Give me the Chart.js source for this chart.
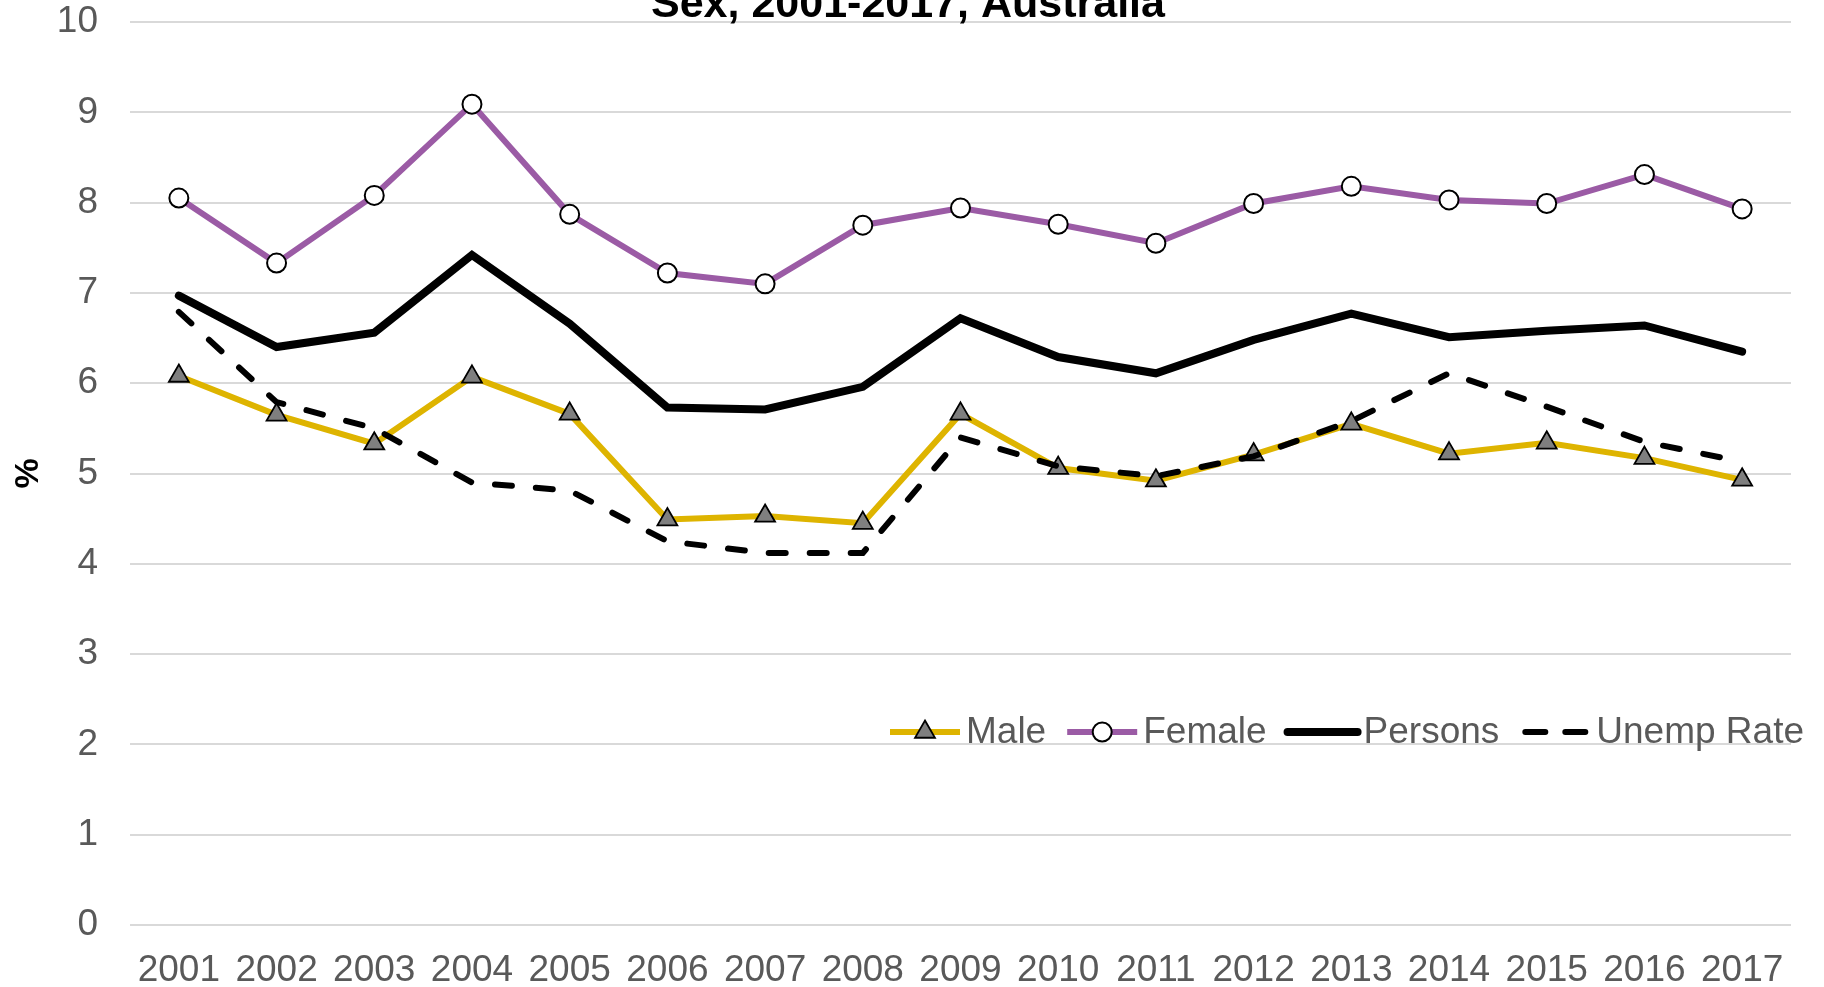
<!DOCTYPE html>
<html>
<head>
<meta charset="utf-8">
<script src="https://cdn.jsdelivr.net/npm/chart.js@4.4.0/dist/chart.umd.min.js"></script>
<style>
  html, body { margin: 0; padding: 0; background: #fff; }
</style>
</head>
<body>
<canvas id="chart" width="1824" height="987" style="width:1824px;height:987px;display:block"></canvas>
<script>
const years = ['2001', '2002', '2003', '2004', '2005', '2006', '2007', '2008', '2009',
               '2010', '2011', '2012', '2013', '2014', '2015', '2016', '2017'];
const male    = [6.08, 5.65, 5.33, 6.07, 5.66, 4.49, 4.53, 4.45, 5.66, 5.06, 4.92, 5.21, 5.55, 5.22, 5.34, 5.17, 4.93];
const female  = [8.05, 7.33, 8.08, 9.09, 7.87, 7.22, 7.10, 7.75, 7.94, 7.76, 7.55, 7.99, 8.18, 8.03, 7.99, 8.31, 7.93];
const persons = [6.97, 6.40, 6.56, 7.42, 6.66, 5.73, 5.71, 5.96, 6.72, 6.29, 6.11, 6.48, 6.77, 6.51, 6.58, 6.64, 6.35];
const unemp   = [6.79, 5.79, 5.50, 4.90, 4.81, 4.25, 4.12, 4.12, 5.40, 5.08, 4.97, 5.19, 5.58, 6.11, 5.74, 5.35, 5.13];
const yTicks  = [0, 1, 2, 3, 4, 5, 6, 7, 8, 9, 10];
const titleText = 'Sex, 2001-2017, Australia';

const FONT = "'Liberation Sans', Arial, sans-serif";
const GREY_TEXT = '#595959';

// the title runs off the top edge in the original, so it is placed by hand
const clippedTitle = {
    id: 'clippedTitle',
    afterDraw(chart) {
        const ctx = chart.ctx;
        ctx.save();
        ctx.font = 'bold 43px ' + FONT;
        ctx.fillStyle = '#000000';
        ctx.textAlign = 'center';
        ctx.textBaseline = 'alphabetic';
        ctx.fillText(titleText, 908, 16.5);
        ctx.restore();
    }
};

// legend sits inside the plot, so it is drawn by hand
const insideLegend = {
    id: 'insideLegend',
    afterDraw(chart) {
        const ctx = chart.ctx;
        const y = 732;
        const sampleW = 70, textGap = 6, itemGap = 21;
        let x = 890;
        ctx.save();
        ctx.font = '37px ' + FONT;
        ctx.textBaseline = 'middle';
        chart.data.datasets.forEach(ds => {
            ctx.beginPath();
            ctx.lineWidth = ds.borderWidth;
            ctx.strokeStyle = ds.borderColor;
            ctx.lineCap = ds.borderCapStyle || 'butt';
            if (ds.borderDash) {
                // shorter pattern so two dashes fit, as in the original
                ctx.setLineDash([20, 20]);
                ctx.moveTo(x + 5, y);
                ctx.lineTo(x + sampleW - 3, y);
            } else {
                ctx.setLineDash([]);
                ctx.moveTo(x, y);
                ctx.lineTo(x + sampleW, y);
            }
            ctx.stroke();
            ctx.setLineDash([]);
            if (ds.pointRadius > 0) {
                ctx.fillStyle = ds.pointBackgroundColor;
                ctx.strokeStyle = ds.pointBorderColor;
                ctx.lineWidth = ds.pointBorderWidth;
                Chart.helpers.drawPoint(ctx, {
                    pointStyle: ds.pointStyle,
                    radius: ds.pointRadius,
                    borderWidth: ds.pointBorderWidth,
                    rotation: 0
                }, x + sampleW / 2, y);
            }
            ctx.fillStyle = GREY_TEXT;
            ctx.textAlign = 'left';
            ctx.fillText(ds.label, x + sampleW + textGap, y + 1);
            x += sampleW + textGap + ctx.measureText(ds.label).width + itemGap;
        });
        ctx.restore();
    }
};

const ctx = document.getElementById('chart').getContext('2d');
new Chart(ctx, {
    type: 'line',
    data: {
        labels: years,
        datasets: [{
            label: 'Male',
            data: male,
            borderColor: '#DEB400',
            borderWidth: 6,
            pointStyle: 'triangle',
            pointRadius: 11.5,
            pointBackgroundColor: '#7F7F7F',
            pointBorderColor: '#000000',
            pointBorderWidth: 1.8,
            order: 4
        }, {
            label: 'Female',
            data: female,
            borderColor: '#9B5BA5',
            borderWidth: 6,
            pointStyle: 'circle',
            pointRadius: 9.5,
            pointBackgroundColor: '#FFFFFF',
            pointBorderColor: '#000000',
            pointBorderWidth: 2,
            order: 3
        }, {
            label: 'Persons',
            data: persons,
            borderColor: '#000000',
            borderWidth: 8,
            borderCapStyle: 'round',
            pointRadius: 0,
            order: 2
        }, {
            label: 'Unemp Rate',
            data: unemp,
            borderColor: '#000000',
            borderWidth: 6,
            borderDash: [17, 24],
            borderCapStyle: 'round',
            pointRadius: 0,
            order: 1
        }]
    },
    options: {
        responsive: false,
        animation: false,
        events: [],
        devicePixelRatio: 1,
        layout: { padding: { left: 0, right: 33, top: 22, bottom: 0 } },
        plugins: {
            legend: { display: false },
            tooltip: { enabled: false },
            title: { display: false }
        },
        scales: {
            x: {
                offset: true,
                grid: { display: false },
                border: { display: false },
                ticks: {
                    color: GREY_TEXT,
                    font: { family: FONT, size: 37 },
                    padding: 16,
                    maxRotation: 0,
                    autoSkip: false
                },
                afterFit: s => {
                    s.height = 62;
                    s.paddingLeft = 0;
                    s.paddingRight = 0;
                }
            },
            y: {
                min: 0,
                max: 10,
                afterBuildTicks: s => { s.ticks = yTicks.map(v => ({ value: v })); },
                grid: { color: '#D9D9D9', lineWidth: 2, drawTicks: false },
                border: { display: false },
                ticks: {
                    color: GREY_TEXT,
                    font: { family: FONT, size: 37, lineHeight: 1 },
                    padding: 32
                },
                title: {
                    display: true,
                    text: '%',
                    color: '#000000',
                    font: { family: FONT, size: 34, weight: 'bold' },
                    padding: { top: 8, bottom: 0 }
                },
                afterFit: s => {
                    s.width = 130;
                    s.paddingTop = 0;
                    s.paddingBottom = 0;
                }
            }
        }
    },
    plugins: [insideLegend, clippedTitle]
});
</script>
</body>
</html>
